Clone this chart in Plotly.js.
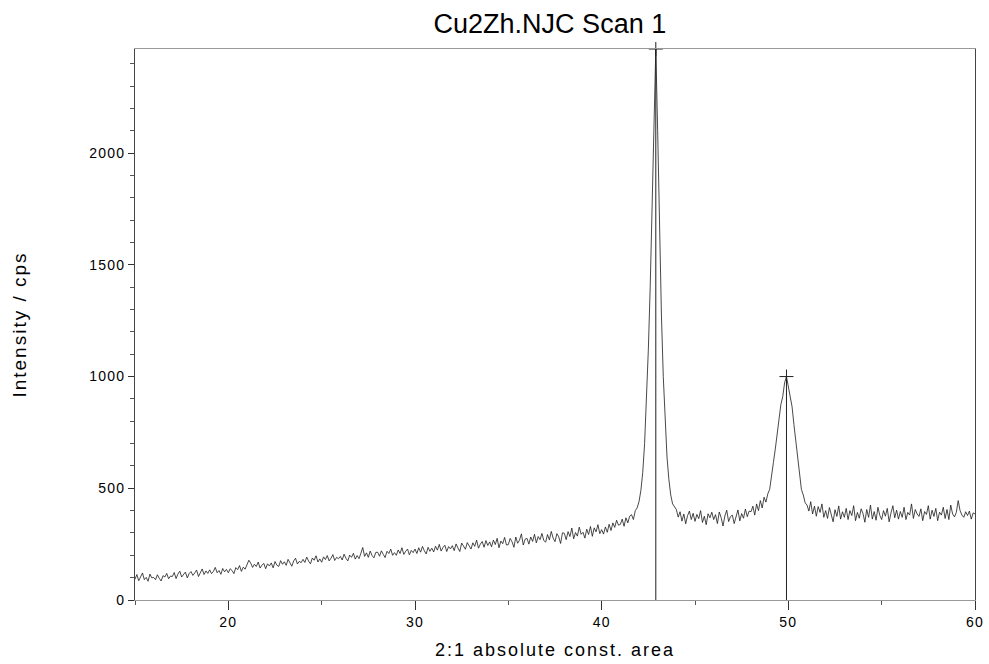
<!DOCTYPE html>
<html>
<head>
<meta charset="utf-8">
<script src="https://cdn.plot.ly/plotly-3.0.1.min.js"></script>
<style>
html,body{margin:0;padding:0;background:#fff;}
#chart{width:989px;height:664px;}
.xtitle,.ytitle{letter-spacing:2px;}
.xtick text,.ytick text{letter-spacing:1.2px;}
</style>
</head>
<body>
<div id="chart"></div>
<script>
// Scan: 2theta from 15.0 to 60.0 deg, step 0.1
const scanStart = 15.0;
const scanStep = 0.1;
const intensity = [
 93,114,86,106,121,91,101,84,116,99,
 101,91,113,97,85,109,103,119,95,107,
 105,123,96,116,129,103,112,125,99,118,
 127,110,121,134,105,125,139,114,130,119,
 135,118,128,146,122,132,115,141,126,137,
 122,140,132,118,145,136,154,128,147,138,
 155,178,165,146,160,150,170,143,156,164,
 140,162,152,166,144,172,156,150,176,160,
 171,155,182,163,151,175,187,161,173,167,
 182,168,192,174,162,188,178,198,170,184,
 169,193,181,199,175,187,203,177,191,185,
 195,179,205,187,175,201,191,209,183,199,
 185,209,235,195,211,191,219,199,189,213,
 214,196,220,204,190,218,208,228,200,212,
 200,224,208,234,204,218,228,202,222,212,
 228,208,234,214,240,220,206,236,218,232,
 215,241,223,249,219,235,245,217,239,229,
 243,221,251,233,217,255,239,227,257,241,
 228,256,240,268,232,250,262,236,266,244,
 260,238,268,248,276,234,264,252,280,246,
 248,276,260,236,282,254,268,296,246,272,
 276,250,282,262,294,256,284,270,298,266,
 259,293,269,307,277,261,297,283,253,301,
 298,270,306,284,322,274,302,286,326,294,
 303,277,317,293,329,285,323,305,337,297,
 315,295,327,303,339,311,345,325,357,335,
 338,362,330,368,345,375,382,360,400,412,
 440,490,570,700,880,1120,1400,1750,2150,2466,
 2100,1650,1280,1000,800,640,540,470,430,415,
 405,371,395,353,385,341,377,398,360,388,
 352,383,364,400,347,375,337,386,368,393,
 360,382,342,394,369,331,376,402,351,373,
 380,342,375,403,354,387,366,407,373,398,
 395,420,380,430,400,445,412,460,438,475,
 495,545,615,675,745,795,875,910,972,1000,
 958,900,865,785,705,625,565,495,470,435,
 425,398,440,385,420,375,418,392,430,370,
 400,365,414,384,350,404,374,421,362,395,
 370,410,360,400,378,422,355,392,366,408,
 387,348,405,370,425,362,396,357,415,379,
 360,400,375,410,350,390,422,368,402,362,
 396,370,415,360,392,380,430,365,405,385,
 374,408,355,396,383,422,362,402,374,410,
 355,393,380,415,365,405,360,425,385,372,
 392,445,400,380,370,395,378,398,362,390,
 385
];
const peakX = [42.9, 49.9];
const peakY = [2466, 1000];
const xTickVals = [20, 30, 40, 50, 60];
const yTickVals = [0, 500, 1000, 1500, 2000];

const dropX = [], dropY = [];
peakX.forEach((p, i) => { dropX.push(p, p, null); dropY.push(0, peakY[i], null); });

const font = 'Liberation Sans, Arial, Helvetica, sans-serif';

const traces = [
  {
    type: 'scatter', mode: 'lines',
    x0: scanStart, dx: scanStep, y: intensity,
    line: {color: '#1a1a1a', width: 0.8},
    hoverinfo: 'skip', showlegend: false
  },
  {
    type: 'scatter', mode: 'lines',
    x: dropX, y: dropY,
    line: {color: '#222', width: 1},
    hoverinfo: 'skip', showlegend: false
  },
  {
    type: 'scatter', mode: 'markers',
    x: peakX, y: peakY,
    marker: {symbol: 'cross-thin', size: 10, line: {color: '#222', width: 1}},
    cliponaxis: false,
    hoverinfo: 'skip', showlegend: false
  }
];

const layout = {
  width: 989, height: 664,
  margin: {l: 135, r: 14, t: 49, b: 64},
  paper_bgcolor: '#fff', plot_bgcolor: '#fff',
  font: {family: font, color: '#000'},
  title: {
    text: 'Cu2Zh.NJC Scan 1',
    font: {family: font, size: 27, color: '#000'},
    xref: 'container', x: 0.556, xanchor: 'center',
    yref: 'container', y: 0.965, yanchor: 'middle'
  },
  xaxis: {
    range: [15, 60],
    tickvals: xTickVals,
    ticks: 'outside', ticklen: 9, tickwidth: 1, tickcolor: '#333',
    minor: {dtick: 5, ticks: 'outside', ticklen: 4, tickcolor: '#555'},
    showgrid: false, zeroline: false,
    showline: true, mirror: true, linecolor: '#999', linewidth: 1,
    tickfont: {family: font, size: 14, color: '#000'},
    title: {text: '2:1 absolute const. area', font: {family: font, size: 18, color: '#000'}, standoff: 14}
  },
  yaxis: {
    range: [0, 2466],
    tickvals: yTickVals,
    ticks: 'outside', ticklen: 6, tickwidth: 1, tickcolor: '#333',
    minor: {dtick: 100, ticks: 'outside', ticklen: 4, tickcolor: '#555'},
    showgrid: false, zeroline: false,
    showline: true, mirror: true, linecolor: '#444', linewidth: 1,
    tickfont: {family: font, size: 14, color: '#000'},
    title: {text: 'Intensity / cps', font: {family: font, size: 19, color: '#000'}, standoff: 57}
  }
};

Plotly.newPlot('chart', traces, layout, {staticPlot: true, displayModeBar: false});
</script>
</body>
</html>
